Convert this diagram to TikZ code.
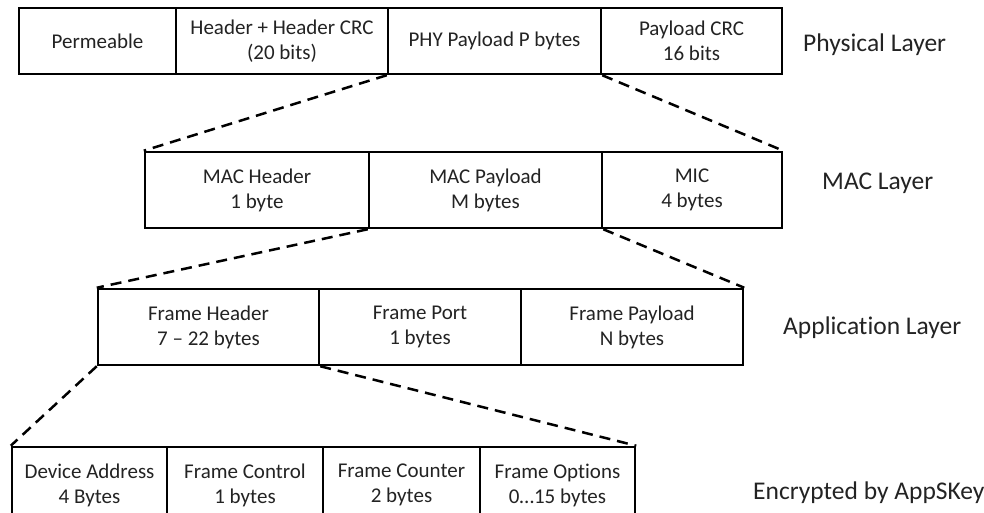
\documentclass[tikz,border=0pt]{standalone}
\usepackage{fontspec}
\setmainfont[Ligatures=NoCommon]{Carlito}
\definecolor{txt}{RGB}{35,35,35}
\begin{document}
\begin{tikzpicture}[x=1pt,y=1pt,
  cell/.style={draw=black, line width=2.5pt, fill=white, inner sep=0pt,
    align=center, text=txt, font=\fontsize{21}{25}\selectfont},
  rowA/.style={cell, minimum height=66pt},
  rowB/.style={cell, minimum height=76pt},
  layerlabel/.style={anchor=west, inner sep=0pt, text=txt, font=\fontsize{25.5}{29}\selectfont},
  link/.style={line width=2.5pt, dash pattern=on 11pt off 7pt}
]
\useasboundingbox (0,0) rectangle (984,513);
\fill[white] (0,0) rectangle (984,513);

% Physical layer
\node[rowA, minimum width=157pt] (perm) at (97.5,472) {Permeable};
\node[rowA, minimum width=212pt] (hdr) at (282,472) {Header + Header CRC\\(20 bits)};
\node[rowA, minimum width=213pt] (phy) at (494.5,472) {PHY Payload P bytes};
\node[rowA, minimum width=181pt] (pcrc) at (691.5,472) {Payload CRC\\16 bits};
\node[layerlabel] (lphy) at (803,468) {Physical Layer};

% MAC layer
\node[rowB, minimum width=224pt] (mhdr) at (257,323) {MAC Header\\1 byte};
\node[rowB, minimum width=233pt] (mpay) at (485.5,323) {MAC Payload\\M bytes};
\node[rowB, minimum width=180pt] (mic) at (692,323) {MIC\\4 bytes};
\node[layerlabel] (lmac) at (822,330) {MAC Layer};

% Application layer
\node[rowB, minimum width=221pt] (fhdr) at (208.5,186) {Frame Header\\7 – 22 bytes};
\node[rowB, minimum width=202pt] (fport) at (420,186) {Frame Port\\1 bytes};
\node[rowB, minimum width=222pt] (fpay) at (632,186) {Frame Payload\\N bytes};
\node[layerlabel] (lapp) at (783,185) {Application Layer};

% Frame header fields
\node[rowB, minimum width=155pt] (dev) at (89.5,28) {Device Address\\4 Bytes};
\node[rowB, minimum width=156pt] (fctl) at (245,28) {Frame Control\\1 bytes};
\node[rowB, minimum width=157pt] (fcnt) at (401.5,28) {Frame Counter\\2 bytes};
\node[rowB, minimum width=155pt] (fopt) at (557.5,28) {Frame Options\\0…15 bytes};
\node[layerlabel] (lenc) at (753,20) {Encrypted by AppSKey};

% Expansion lines
\draw[link] (phy.south west) -- (mhdr.north west);
\draw[link] (phy.south east) -- (mic.north east);
\draw[link] (mpay.south west) -- (fhdr.north west);
\draw[link] (mpay.south east) -- (fpay.north east);
\draw[link] (fhdr.south west) -- (dev.north west);
\draw[link] (fhdr.south east) -- (fopt.north east);
\end{tikzpicture}
\end{document}
